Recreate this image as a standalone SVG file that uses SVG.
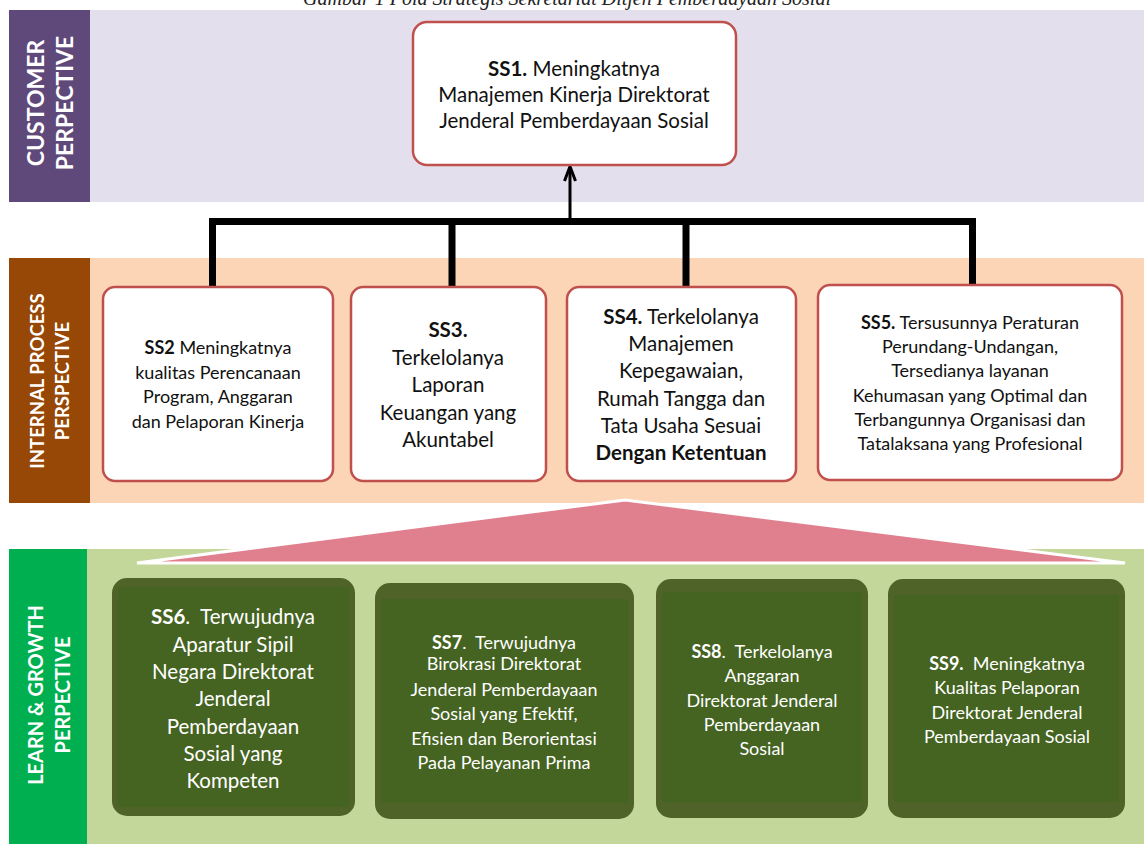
<svg xmlns="http://www.w3.org/2000/svg" width="1144" height="844" viewBox="0 0 1144 844">
<defs>
<style>
.t{font-family:Lato,"Liberation Sans",sans-serif;text-anchor:middle;fill:#111}
.w{fill:#fff}
.b{font-weight:bold}
.lab{font-family:Lato,"Liberation Sans",sans-serif;font-weight:bold;fill:#fff;text-anchor:middle}
.box{fill:#fff;stroke:#C0504D;stroke-width:2.5}
.gbox{fill:#4F6228}
.gin{fill:#456321}
.conn{fill:none;stroke:#000;stroke-width:7;stroke-linejoin:miter}
</style>
</defs>
<rect width="1144" height="844" fill="#fff"/>
<text x="567" y="5" font-family="'Liberation Serif',serif" font-style="italic" font-size="20" text-anchor="middle" fill="#222">Gambar 1 Pola Strategis Sekretariat Ditjen Pemberdayaan Sosial</text>

<g id="bands">
<rect x="90" y="10" width="1054" height="192" fill="#E4DFEC"/>
<rect x="9" y="10" width="81" height="192" fill="#5F497A"/>
<rect x="90" y="258" width="1054" height="245" fill="#FBD5B5"/>
<rect x="9" y="258" width="81" height="245" fill="#974706"/>
<rect x="87" y="549" width="1057" height="295" fill="#C4D79B"/>
<rect x="9" y="549" width="78" height="295" fill="#00B050"/>
</g>

<g id="labels">
<g transform="translate(50,103) rotate(-90)"><text class="lab" font-size="23" x="0" y="-6">CUSTOMER</text><text class="lab" font-size="23" x="0" y="23">PERPECTIVE</text></g>
<g transform="translate(50,381) rotate(-90)"><text class="lab" font-size="18.5" x="0" y="-6">INTERNAL PROCESS</text><text class="lab" font-size="18.5" x="0" y="19">PERSPECTIVE</text></g>
<g transform="translate(49,695) rotate(-90)"><text class="lab" font-size="20" x="0" y="-6">LEARN &amp; GROWTH</text><text class="lab" font-size="20" x="0" y="21">PERPECTIVE</text></g>
</g>

<g id="triangle">
<polygon points="137,563 625,500 1125,563" fill="#E0808F" stroke="#fff" stroke-width="3"/>
</g>

<g id="connectors">
<path class="conn" d="M212.5,287 V221.5 H972.5 V287"/>
<path class="conn" d="M452,221.5 V287 M686,221.5 V287"/>
<path d="M570,218 V167" stroke="#000" stroke-width="3" fill="none"/>
<path d="M564.5,181 L570,166.5 L575.5,181" stroke="#000" stroke-width="3" fill="none" stroke-linejoin="miter"/>
</g>

<g id="SS1">
<rect class="box" x="413" y="22" width="323" height="143" rx="14"/>
<text class="t" font-size="20.5"><tspan x="574" y="76"><tspan class="b">SS1.</tspan> Meningkatnya</tspan><tspan x="574" y="102">Manajemen Kinerja Direktorat</tspan><tspan x="574" y="128">Jenderal Pemberdayaan Sosial</tspan></text>
</g>

<g id="SS2">
<rect class="box" x="103" y="287" width="230" height="194" rx="12"/>
<text class="t" font-size="18"><tspan x="218" y="354"><tspan class="b">SS2</tspan> Meningkatnya</tspan><tspan x="218" y="378.5">kualitas Perencanaan</tspan><tspan x="218" y="403">Program, Anggaran</tspan><tspan x="218" y="427.5">dan Pelaporan Kinerja</tspan></text>
</g>

<g id="SS3">
<rect class="box" x="351" y="287" width="195" height="194" rx="12"/>
<text class="t" font-size="20.5"><tspan class="b" x="448" y="337">SS3.</tspan><tspan x="448" y="364.5">Terkelolanya</tspan><tspan x="448" y="392">Laporan</tspan><tspan x="448" y="419.5">Keuangan yang</tspan><tspan x="448" y="447">Akuntabel</tspan></text>
</g>

<g id="SS4">
<rect class="box" x="567" y="287" width="229" height="194" rx="12"/>
<text class="t" font-size="20.5"><tspan x="681" y="323.5"><tspan class="b">SS4.</tspan>&#160;Terkelolanya</tspan><tspan x="681" y="351">Manajemen</tspan><tspan x="681" y="378">Kepegawaian,</tspan><tspan x="681" y="405.5">Rumah Tangga dan</tspan><tspan x="681" y="432.5">Tata Usaha Sesuai</tspan><tspan class="b" x="681" y="460">Dengan Ketentuan</tspan></text>
</g>

<g id="SS5">
<rect class="box" x="818" y="285" width="304" height="195" rx="12"/>
<text class="t" font-size="18"><tspan x="970" y="329"><tspan class="b">SS5.</tspan> Tersusunnya Peraturan</tspan><tspan x="970" y="353">Perundang-Undangan,</tspan><tspan x="970" y="377">Tersedianya layanan</tspan><tspan x="970" y="401.5">Kehumasan yang Optimal dan</tspan><tspan x="970" y="425.5">Terbangunnya Organisasi dan</tspan><tspan x="970" y="450">Tatalaksana yang Profesional</tspan></text>
</g>

<g id="SS6">
<rect class="gbox" x="112" y="578" width="243" height="238" rx="15"/>
<rect class="gin" x="118" y="587" width="231" height="220"/>
<text class="t w" font-size="20.5"><tspan x="233" y="624"><tspan class="b">SS6</tspan>.&#160; Terwujudnya</tspan><tspan x="233" y="651.5">Aparatur Sipil</tspan><tspan x="233" y="679">Negara Direktorat</tspan><tspan x="233" y="706">Jenderal</tspan><tspan x="233" y="733.5">Pemberdayaan</tspan><tspan x="233" y="761">Sosial yang</tspan><tspan x="233" y="788">Kompeten</tspan></text>
</g>

<g id="SS7">
<rect class="gbox" x="375" y="583" width="259" height="236" rx="15"/>
<rect class="gin" x="381" y="599" width="247" height="204"/>
<text class="t w" font-size="18"><tspan x="504" y="649"><tspan class="b">SS7</tspan>.&#160; Terwujudnya</tspan><tspan x="504" y="669.5">Birokrasi Direktorat</tspan><tspan x="504" y="696">Jenderal Pemberdayaan</tspan><tspan x="504" y="720">Sosial yang Efektif,</tspan><tspan x="504" y="745">Efisien dan Berorientasi</tspan><tspan x="504" y="769">Pada Pelayanan Prima</tspan></text>
</g>

<g id="SS8">
<rect class="gbox" x="656" y="579" width="212" height="239" rx="15"/>
<rect class="gin" x="662" y="592" width="200" height="210"/>
<text class="t w" font-size="18"><tspan x="762" y="658"><tspan class="b">SS8</tspan>.&#160; Terkelolanya</tspan><tspan x="762" y="682">Anggaran</tspan><tspan x="762" y="706.5">Direktorat Jenderal</tspan><tspan x="762" y="731">Pemberdayaan</tspan><tspan x="762" y="754.5">Sosial</tspan></text>
</g>

<g id="SS9">
<rect class="gbox" x="888" y="579" width="237" height="239" rx="15"/>
<rect class="gin" x="894" y="595" width="225" height="207"/>
<text class="t w" font-size="18"><tspan x="1007" y="670"><tspan class="b">SS9.</tspan>&#160; Meningkatnya</tspan><tspan x="1007" y="694">Kualitas Pelaporan</tspan><tspan x="1007" y="718.5">Direktorat Jenderal</tspan><tspan x="1007" y="742.5">Pemberdayaan Sosial</tspan></text>
</g>
</svg>
